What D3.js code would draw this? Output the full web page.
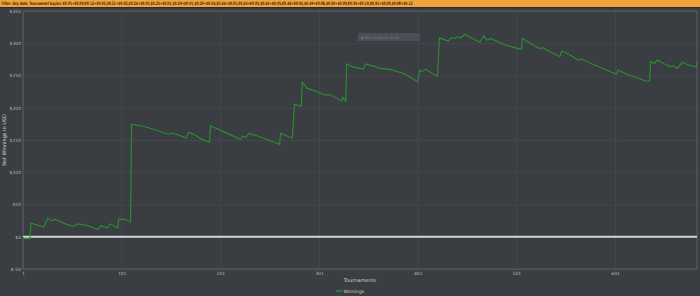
<!DOCTYPE html>
<html>
<head>
<meta charset="utf-8">
<script src="https://cdn.jsdelivr.net/npm/d3@7"></script>
<style>
  body { margin: 0; background: #3a3d41; }
  svg { display: block; }
</style>
</head>
<body>
<div id="chart"></div>
<script>
// values
var tournaments = [1, 2, 8, 9, 14, 22, 26, 30, 34, 44, 52, 57, 66, 77, 80, 86, 90, 97, 98, 104, 110,
  111, 121, 135, 148, 152, 158, 166, 169, 175, 182, 190, 191, 204, 221, 224, 227, 230, 241, 261,
  262, 270, 274, 276, 281, 283, 284, 289, 297, 307, 312, 324, 325, 328, 329, 336, 346, 348, 355,
  363, 373, 387, 401, 403, 405, 409, 413, 421, 423, 427, 432, 435, 439, 441, 445, 449, 455, 464,
  468, 471, 475, 488, 493, 502, 506, 507, 515, 525, 527, 545, 547, 554, 564, 567, 576, 589, 602,
  604, 613, 632, 636, 637, 641, 644, 652, 657, 660, 664, 669, 674, 683, 684];
var winnings = [-1, -3, -3, 21, 19, 15, 29, 25, 27, 20, 16, 20, 17.5, 11, 17, 14, 20, 13.5, 27, 27, 23,
  174, 172, 166, 159, 160.5, 158, 153, 161.5, 158, 151, 147, 172, 163, 151, 156, 154, 160.5, 155, 143.5,
  160.5, 155, 153, 205, 203, 203, 239.5, 230, 226, 220, 220, 210.5, 216, 210.5, 268, 263, 260, 268, 265,
  261, 259.5, 253, 240.5, 258.5, 256, 259.5, 256, 249, 308.5, 306, 303.5, 308.5, 307.5, 310, 308.5, 314, 308.5, 301.5,
  311.5, 305, 307.5, 298, 296, 292, 290.5, 307.5, 300, 291, 293.5, 279, 288, 283, 274, 275.5, 269, 261, 252,
  258.5, 252, 241.5, 241.5, 271.5, 269, 274, 267, 263.5, 265, 261, 270.5, 267, 263, 270.5];
var xTicks = [1, 101, 201, 301, 401, 501, 601];
var yTicks = [-50, 0, 50, 100, 150, 200, 250, 300, 350];
var filterText = "Filter: Any date; Tournament buyins: \u20ac0.01+\u20ac0.00,\u20ac0.12+\u20ac0.03,$0.21+$0.02,$0.24+$0.01,$0.25+$0.01,$0.29+$0.01,$0.29+$0.04,$0.44+$0.01,\u20ac0.45+\u20ac0.05,$0.45+$0.05,\u20ac0.46+\u20ac0.04,$0.49+$0.06,$0.50+$0.00,\u20ac0.95+\u20ac0.10,$0.91+$0.09,$0.98+$0.12";

var data = tournaments.map(function (t, i) { return { t: t, v: winnings[i] }; });

var W = 700, H = 296;
var margin = { top: 11, right: 3, bottom: 27, left: 23 },
  width = W - margin.left - margin.right,
  height = H - margin.top - margin.bottom;

var root = d3.select("#chart").append("svg")
  .attr("width", W)
  .attr("height", H);

root.append("rect").attr("width", W).attr("height", H).attr("fill", "#3a3d41");

// filter bar
root.append("rect").attr("width", W).attr("height", 7).attr("fill", "#f2a43c");
root.append("rect").attr("y", 7).attr("width", W).attr("height", 1).attr("fill", "#2b2d30");
root.append("text")
  .attr("x", 1.5)
  .attr("y", 5.4)
  .attr("font-family", "DejaVu Sans")
  .attr("font-size", "4.6px")
  .attr("font-weight", "bold")
  .attr("fill", "#3a2a10")
  .attr("textLength", 411)
  .attr("lengthAdjust", "spacingAndGlyphs")
  .text(filterText);

var svg = root.append("g")
  .attr("transform", "translate(" + margin.left + "," + margin.top + ")");

var x = d3.scaleLinear()
  .range([0, width])
  .domain([1, 684]);

var y = d3.scaleLinear()
  .range([height, 0])
  .domain([-50, 350]);

// grid
var yAxis = d3.axisLeft(y)
  .tickValues(yTicks)
  .tickSize(-width)
  .tickPadding(2)
  .tickFormat(function (d) { return "$" + d; });

var gy = svg.append("g").attr("class", "y axis").call(yAxis);
gy.select(".domain").remove();
gy.selectAll("line").attr("stroke", "#46494d").attr("stroke-width", 0.8);
gy.selectAll("text")
  .attr("font-family", "DejaVu Sans")
  .attr("font-size", "4.5px")
  .attr("fill", "#b8babc");

var xAxis = d3.axisBottom(x)
  .tickValues(xTicks)
  .tickSize(-height)
  .tickPadding(3);

var gx = svg.append("g")
  .attr("class", "x axis")
  .attr("transform", "translate(0," + height + ")")
  .call(xAxis);
gx.select(".domain").remove();
gx.selectAll("line").attr("stroke", "#46494d").attr("stroke-width", 0.8);
gx.selectAll("text")
  .attr("font-family", "DejaVu Sans")
  .attr("font-size", "4.5px")
  .attr("fill", "#b8babc");

// frame
svg.append("rect")
  .attr("width", width)
  .attr("height", height)
  .attr("fill", "none")
  .attr("stroke", "#5b5e62")
  .attr("stroke-width", 1);

// zero line
svg.append("line")
  .attr("x1", 0).attr("x2", width)
  .attr("y1", y(0)).attr("y2", y(0))
  .attr("stroke", "#d4d5d6")
  .attr("stroke-width", 2);

// snip tooltip artifact
svg.append("rect")
  .attr("x", 335).attr("y", 22).attr("width", 62).attr("height", 8)
  .attr("fill", "#4a5059");
svg.append("text")
  .attr("x", 338).attr("y", 27.8)
  .attr("font-family", "DejaVu Sans")
  .attr("font-size", "4px")
  .attr("fill", "#6f7680")
  .text("\u25aa  Rectangular Snip");

var line = d3.line()
  .x(function (d) { return x(d.t); })
  .y(function (d) { return y(d.v); });

svg.append("path")
  .datum(data)
  .attr("fill", "none")
  .attr("stroke", "#2b8e30")
  .attr("stroke-width", 1.15)
  .attr("d", line);

// titles
svg.append("text")
  .attr("x", width / 2)
  .attr("y", height + 12.5)
  .attr("text-anchor", "middle")
  .attr("font-family", "DejaVu Sans")
  .attr("font-size", "5px")
  .attr("fill", "#d0d2d4")
  .text("Tournaments");

svg.append("text")
  .attr("transform", "translate(" + (-17) + "," + (height / 2) + ") rotate(-90)")
  .attr("text-anchor", "middle")
  .attr("font-family", "DejaVu Sans")
  .attr("font-size", "5px")
  .attr("fill", "#d0d2d4")
  .text("Net Winnings in USD");

// legend
var lg = root.append("g").attr("transform", "translate(336,291)");
lg.append("line").attr("x1", 0).attr("x2", 6).attr("y1", 0).attr("y2", 0)
  .attr("stroke", "#2b8e30").attr("stroke-width", 1.5);
lg.append("text")
  .attr("x", 7.5).attr("y", 1.6)
  .attr("font-family", "DejaVu Sans")
  .attr("font-size", "4.5px")
  .attr("fill", "#d0d2d4")
  .text("Winnings");
</script>
</body>
</html>
